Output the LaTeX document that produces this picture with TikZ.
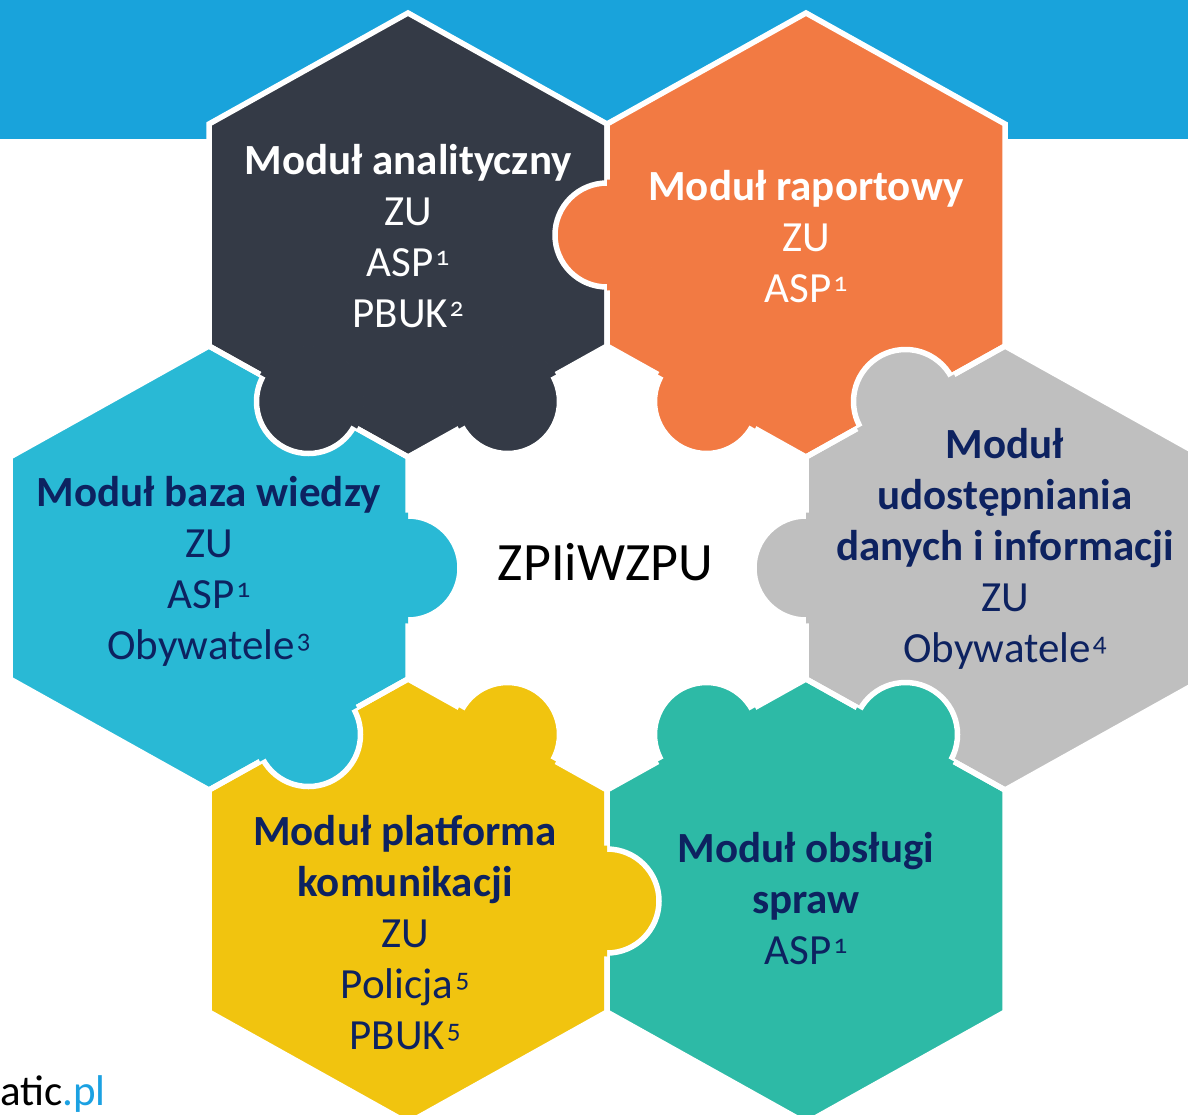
\documentclass[tikz,border=0pt]{standalone}
\usepackage{fontspec}
\setmainfont{Carlito}
\newfontfamily\supfont[Numbers=OldStyle]{Carlito}
\newcommand\supnum[1]{\kern2pt\raisebox{11pt}{\supfont\fontsize{27}{27}\selectfont #1}}
\newcommand\hexp[2]{(#1,#2-222) -- (#1+199,#2-111) -- (#1+199,#2+111) -- (#1,#2+222) -- (#1-199,#2+111) -- (#1-199,#2-111) -- cycle}
\definecolor{band}{HTML}{19A3DB}
\definecolor{cdark}{HTML}{343A46}
\definecolor{corange}{HTML}{F27A43}
\definecolor{cblue}{HTML}{29B9D5}
\definecolor{cgray}{HTML}{BFBFBF}
\definecolor{cteal}{HTML}{2DBAA6}
\definecolor{cyellow}{HTML}{F1C40F}
\definecolor{navy}{HTML}{0D2260}
\definecolor{plblue}{HTML}{1BA1E2}
\tikzset{
  hexline/.style={draw=white, line width=5.5pt, line join=miter},
  tabdisc/.style={draw=white, line width=5.5pt},
  lbl/.style={anchor=base, inner sep=0pt, font=\fontsize{43}{51}\selectfont},
}
\newcommand\tabpiece[4]{% color, hex cx, hex cy, tab center
  \filldraw[fill=#1, tabdisc] #4 circle[radius=52pt];
}
\newcommand\tabfix[4]{%
  \begin{scope}
    \clip \hexp{#2}{#3};
    \fill[#1] #4 circle[radius=55.5pt];
  \end{scope}
}
\begin{document}
\begin{tikzpicture}[x=1pt, y=-1pt]
  \useasboundingbox (0,0) rectangle (1188,1114);
  \clip (0,0) rectangle (1188,1114);
  \fill[white] (0,0) rectangle (1188,1114);
  \fill[band] (0,0) rectangle (1188,139);
  % hexagon bodies
  \fill[cdark]   \hexp{408}{235};
  \fill[corange] \hexp{806}{235};
  \fill[cblue]   \hexp{209}{568};
  \fill[cgray]   \hexp{1005}{568};
  \fill[cyellow] \hexp{408}{901};
  \fill[cteal]   \hexp{806}{901};
  % outlines
  \draw[hexline] \hexp{408}{235};
  \draw[hexline] \hexp{806}{235};
  \draw[hexline] \hexp{209}{568};
  \draw[hexline] \hexp{1005}{568};
  \draw[hexline] \hexp{408}{901};
  \draw[hexline] \hexp{806}{901};
  % puzzle tabs
  \tabpiece{cdark}{408}{235}{(308.5,401.5)}
  \tabpiece{cdark}{408}{235}{(507.5,401.5)}
  \tabpiece{corange}{806}{235}{(607,235)}
  \tabpiece{corange}{806}{235}{(706.5,401.5)}
  \tabpiece{cgray}{1005}{568}{(905.5,401.5)}
  \tabpiece{cgray}{1005}{568}{(806,568)}
  \tabpiece{cteal}{806}{901}{(706.5,734.5)}
  \tabpiece{cteal}{806}{901}{(905.5,734.5)}
  \tabpiece{cyellow}{408}{901}{(507.5,734.5)}
  \tabpiece{cyellow}{408}{901}{(607,901)}
  \tabpiece{cblue}{209}{568}{(408,568)}
  \tabpiece{cblue}{209}{568}{(308.5,734.5)}
  % remove inner halves of the tab outlines
  \tabfix{cdark}{408}{235}{(308.5,401.5)}
  \tabfix{cdark}{408}{235}{(507.5,401.5)}
  \tabfix{corange}{806}{235}{(607,235)}
  \tabfix{corange}{806}{235}{(706.5,401.5)}
  \tabfix{cgray}{1005}{568}{(905.5,401.5)}
  \tabfix{cgray}{1005}{568}{(806,568)}
  \tabfix{cteal}{806}{901}{(706.5,734.5)}
  \tabfix{cteal}{806}{901}{(905.5,734.5)}
  \tabfix{cyellow}{408}{901}{(507.5,734.5)}
  \tabfix{cyellow}{408}{901}{(607,901)}
  \tabfix{cblue}{209}{568}{(408,568)}
  \tabfix{cblue}{209}{568}{(308.5,734.5)}
  % texts
  \node[lbl, text=white] (tD) at (408,174) {\begin{tabular}[t]{@{}c@{}}\textbf{Moduł analityczny}\\ ZU\\ ASP\supnum{1}\\ PBUK\supnum{2}\end{tabular}};
  \node[lbl, text=white] (tO) at (806,200) {\begin{tabular}[t]{@{}c@{}}\textbf{Moduł raportowy}\\ ZU\\ ASP\supnum{1}\end{tabular}};
  \node[lbl, text=navy] (tB) at (209,506) {\begin{tabular}[t]{@{}c@{}}\textbf{Moduł baza wiedzy}\\ ZU\\ ASP\supnum{1}\\ Obywatele\supnum{3}\end{tabular}};
  \node[lbl, text=navy] (tG) at (1005,458) {\begin{tabular}[t]{@{}c@{}}\textbf{Moduł}\\ \textbf{udostępniania}\\ \textbf{danych i informacji}\\ ZU\\ Obywatele\supnum{4}\end{tabular}};
  \node[lbl, text=navy] (tY) at (405,845) {\begin{tabular}[t]{@{}c@{}}\textbf{Moduł platforma}\\ \textbf{komunikacji}\\ ZU\\ Policja\supnum{5}\\ PBUK\supnum{5}\end{tabular}};
  \node[lbl, text=navy] (tT) at (806,862) {\begin{tabular}[t]{@{}c@{}}\textbf{Moduł obsługi}\\ \textbf{spraw}\\ ASP\supnum{1}\end{tabular}};
  \node[anchor=base, inner sep=0pt, font=\fontsize{54}{60}\selectfont] (ctr) at (605.5,580) {ZPIiWZPU};
  \node[anchor=base west, inner sep=0pt, font=\fontsize{43}{50}\selectfont] (url) at (0,1105) {atic\textcolor{plblue}{.pl}};
\end{tikzpicture}
\end{document}
